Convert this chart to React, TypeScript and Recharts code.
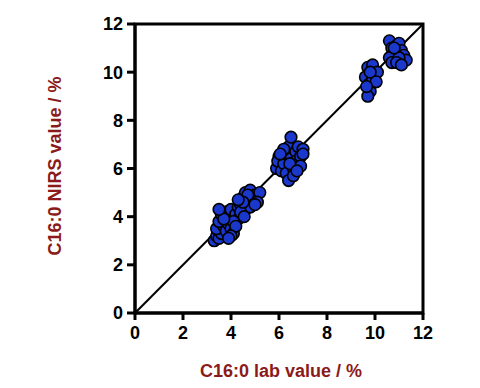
import React from 'react';
import { ScatterChart, Scatter, XAxis, YAxis, ReferenceLine, ReferenceArea } from 'recharts';

const labValues: number[] = [
  3.3, 3.4, 3.5, 3.6, 3.4, 3.7, 3.5, 3.8, 3.9, 4.0, 4.1, 3.6, 3.8, 3.9, 4.0, 4.2, 4.3, 4.1, 3.7, 4.2, 4.0, 3.5, 3.9, 4.3,
  4.4, 4.5, 4.6, 4.7, 4.8, 4.9, 5.0, 5.2, 4.6, 4.8, 5.1, 4.4, 4.7, 4.5, 5.0, 4.3, 4.55,
  5.9, 6.0, 5.95, 6.1, 6.2, 6.3, 6.3, 6.4, 6.4, 6.5, 6.5, 6.6, 6.7, 6.7, 6.8, 6.9, 7.0, 6.9, 6.6, 6.2, 6.45, 6.75, 6.05, 7.0,
  9.6, 9.7, 9.75, 9.8, 9.7, 9.9, 9.9, 10.0, 10.1, 9.8, 10.05, 9.65,
  10.6, 10.7, 10.8, 10.6, 10.7, 10.9, 11.0, 11.1, 11.2, 11.3, 11.0, 10.9, 11.1, 10.8,
];
const nirsValues: number[] = [
  3.0, 3.2, 3.1, 3.3, 3.5, 3.6, 3.8, 3.4, 3.7, 3.5, 3.3, 4.1, 4.2, 4.0, 4.3, 4.1, 3.9, 3.8, 3.9, 3.6, 3.2, 4.3, 3.1, 4.4,
  4.5, 4.8, 5.0, 4.7, 5.1, 4.6, 4.9, 5.0, 4.3, 4.4, 4.6, 4.2, 4.9, 4.6, 4.5, 4.7, 4.0,
  6.0, 6.5, 6.3, 5.9, 6.2, 6.6, 5.8, 5.5, 6.9, 7.3, 6.4, 6.0, 6.7, 6.3, 6.9, 6.5, 6.8, 6.1, 5.7, 6.8, 6.2, 5.9, 6.6, 6.6,
  9.8, 10.2, 9.5, 9.2, 9.0, 10.3, 9.7, 9.9, 10.0, 10.0, 9.6, 9.4,
  11.3, 11.0, 10.8, 10.6, 10.4, 11.1, 11.2, 10.9, 10.7, 10.5, 10.6, 10.4, 10.3, 11.0,
];
const axisTicks: number[] = [0, 2, 4, 6, 8, 10, 12];
const xTitle = 'C16:0 lab value / %';
const yTitle = 'C16:0 NIRS value / %';

const data = labValues.map((x, i) => ({ x, y: nirsValues[i] }));

const FONT = '"Liberation Sans", Arial, sans-serif';
const TITLE_COLOR = '#8b1a1a';

const Dot = (props: any) => (
  <circle cx={props.cx} cy={props.cy} r={5.8} fill="#1a38cc" stroke="#000" strokeWidth={1.6} />
);

const YLabel = () => (
  <text
    x={55}
    y={166}
    transform="rotate(-90, 55, 166)"
    textAnchor="middle"
    dominantBaseline="central"
    fontFamily={FONT}
    fontWeight="bold"
    fontSize={18}
    fill={TITLE_COLOR}
  >
    {yTitle}
  </text>
);

const XLabel = () => (
  <text
    x={281}
    y={377}
    textAnchor="middle"
    fontFamily={FONT}
    fontWeight="bold"
    fontSize={18}
    fill={TITLE_COLOR}
  >
    {xTitle}
  </text>
);

export default function App() {
  const tickStyle = { fontSize: 18, fontWeight: 'bold', fill: '#000', fontFamily: FONT };
  return (
    <div style={{ position: 'absolute', left: 0, top: 0, background: '#fff' }}>
      <ScatterChart width={480} height={388} margin={{ top: 24, right: 57, bottom: 0, left: 0 }}>
        <XAxis
          type="number"
          dataKey="x"
          domain={[0, 12]}
          ticks={axisTicks}
          interval={0}
          height={75}
          axisLine={{ stroke: '#000', strokeWidth: 3 }}
          tickLine={{ stroke: '#000', strokeWidth: 3 }}
          tickSize={7}
          tickMargin={6}
          tick={tickStyle}
          label={XLabel}
        />
        <YAxis
          type="number"
          dataKey="y"
          domain={[0, 12]}
          ticks={axisTicks}
          interval={0}
          width={135}
          axisLine={{ stroke: '#000', strokeWidth: 3 }}
          tickLine={{ stroke: '#000', strokeWidth: 3 }}
          tickSize={8}
          tickMargin={4}
          tick={tickStyle}
          label={YLabel}
        />
        <ReferenceLine
          segment={[{ x: 0, y: 0 }, { x: 12, y: 12 }]}
          stroke="#000"
          strokeWidth={2}
        />
        <Scatter data={data} shape={Dot} isAnimationActive={false} />
        <ReferenceArea x1={0} x2={12} y1={0} y2={12} fill="none" stroke="#000" strokeWidth={3} fillOpacity={0} />
      </ScatterChart>
    </div>
  );
}
